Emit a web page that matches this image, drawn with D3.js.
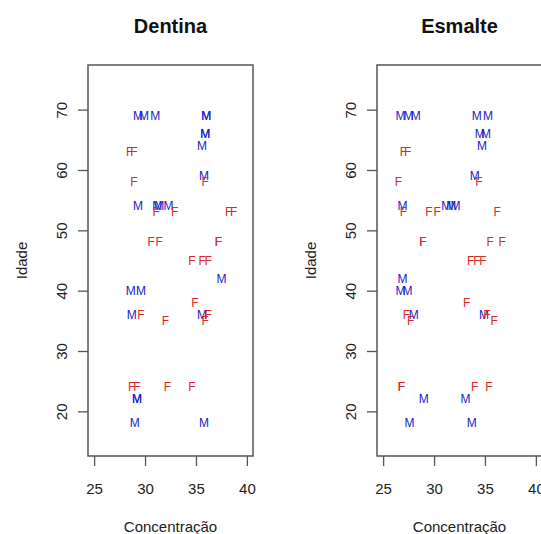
<!DOCTYPE html>
<html>
<head>
<meta charset="utf-8">
<script src="https://cdn.jsdelivr.net/npm/d3@7"></script>
<style>
    html, body { margin: 0; padding: 0; background: #fff; }
    svg { display: block; font-family: "Liberation Sans", Arial, sans-serif; }
</style>
</head>
<body>
<div id="chart"></div>
<script>
// Dentina: concentration, age and sex for every sample
const dentinaConc = [
    29.3, 29.9, 31.0, 36.0, 36.0, 35.9, 35.9, 35.6, 35.8, 29.3, 31.2, 31.4, 32.3,
    37.5, 28.6, 29.6, 28.7, 35.6, 29.2, 29.2, 29.0, 35.8,
    28.5, 28.9, 28.9, 35.9, 31.1, 32.9, 38.2, 38.7, 30.6, 31.4, 37.2, 37.2,
    34.6, 35.6, 36.2, 34.9, 29.6, 36.2, 32.0, 35.9, 28.7, 29.2, 32.2, 34.6
];
const dentinaIdade = [
    69, 69, 69, 69, 69, 66, 66, 64, 59, 54, 54, 54, 54,
    42, 40, 40, 36, 36, 22, 22, 18, 18,
    63, 63, 58, 58, 53, 53, 53, 53, 48, 48, 48, 48,
    45, 45, 45, 38, 36, 36, 35, 35, 24, 24, 24, 24
];
const dentinaSexo = [
    "M", "M", "M", "M", "M", "M", "M", "M", "M", "M", "M", "M", "M",
    "M", "M", "M", "M", "M", "M", "M", "M", "M",
    "F", "F", "F", "F", "F", "F", "F", "F", "F", "F", "F", "F",
    "F", "F", "F", "F", "F", "F", "F", "F", "F", "F", "F", "F"
];

// Esmalte
const esmalteConc = [
    26.7, 27.5, 28.2, 34.2, 35.3, 34.5, 35.1, 34.7, 34.0, 26.9, 31.2, 31.7, 32.1,
    26.9, 26.7, 27.4, 28.0, 34.9, 29.0, 33.1, 27.6, 33.7,
    27.0, 27.4, 26.5, 34.4, 27.0, 29.5, 30.3, 36.2, 28.9, 28.9, 35.5, 36.7,
    33.6, 34.2, 34.8, 33.2, 27.3, 35.2, 27.7, 35.9, 26.8, 26.8, 34.0, 35.4
];
const esmalteIdade = dentinaIdade;
const esmalteSexo = dentinaSexo;

const xTicks = [25, 30, 35, 40];
const yTicks = [20, 30, 40, 50, 60, 70];
const sexColor = { M: "#1c1cc8", F: "#d42c2c" };

const width = 541;
const height = 534;

const svg = d3.select("#chart").append("svg")
    .attr("width", width)
    .attr("height", height);

const panels = [
    { title: "Dentina", conc: dentinaConc, idade: dentinaIdade, sexo: dentinaSexo, left: 88 },
    { title: "Esmalte", conc: esmalteConc, idade: esmalteIdade, sexo: esmalteSexo, left: 377 }
];

const boxTop = 65;
const boxBottom = 456;
const boxWidth = 165;

/**
 * Draw one panel (box, axes, labels and the M/F text markers)
 */
function drawPanel(p) {
    const x = d3.scaleLinear()
        .domain([24.4, 40.6])
        .range([p.left, p.left + boxWidth]);

    const y = d3.scaleLinear()
        .domain([12.6, 77.4])
        .range([boxBottom, boxTop]);

    // Title
    svg.append("text")
        .attr("x", p.left + boxWidth / 2)
        .attr("y", 33)
        .attr("text-anchor", "middle")
        .attr("font-size", "20px")
        .attr("font-weight", "bold")
        .attr("fill", "#111")
        .text(p.title);

    // X axis
    const gx = svg.append("g")
        .attr("transform", `translate(0,${boxBottom})`)
        .call(d3.axisBottom(x).tickValues(xTicks).tickSize(10).tickSizeOuter(0));
    gx.select(".domain").remove();
    gx.selectAll("line").attr("stroke", "#555").attr("stroke-width", 1.3);
    gx.selectAll("text")
        .attr("y", 38)
        .attr("dy", null)
        .attr("font-size", "15px")
        .attr("font-family", "Liberation Sans, Arial, sans-serif")
        .attr("fill", "#222");

    // Y axis (labels rotated like R default)
    const gy = svg.append("g")
        .attr("transform", `translate(${p.left},0)`)
        .call(d3.axisLeft(y).tickValues(yTicks).tickSize(10).tickSizeOuter(0));
    gy.select(".domain").remove();
    gy.selectAll("line").attr("stroke", "#555").attr("stroke-width", 1.3);
    gy.selectAll("text")
        .attr("x", null)
        .attr("dy", null)
        .attr("text-anchor", "middle")
        .attr("transform", "translate(-21.5,0) rotate(-90)")
        .attr("font-size", "15px")
        .attr("font-family", "Liberation Sans, Arial, sans-serif")
        .attr("fill", "#222");

    // Axis titles
    svg.append("text")
        .attr("x", p.left + boxWidth / 2)
        .attr("y", 532)
        .attr("text-anchor", "middle")
        .attr("font-size", "15px")
        .attr("fill", "#222")
        .text("Concentração");

    svg.append("text")
        .attr("transform", `translate(${p.left - 61.5},${(boxTop + boxBottom) / 2}) rotate(-90)`)
        .attr("text-anchor", "middle")
        .attr("font-size", "15px")
        .attr("fill", "#222")
        .text("Idade");

    // Box around plot area
    svg.append("rect")
        .attr("x", p.left)
        .attr("y", boxTop)
        .attr("width", boxWidth)
        .attr("height", boxBottom - boxTop)
        .attr("fill", "none")
        .attr("stroke", "#555")
        .attr("stroke-width", 1.5);

    // Points drawn as the letters M / F
    const pts = p.conc.map((c, i) => ({ conc: c, idade: p.idade[i], sexo: p.sexo[i] }));
    svg.append("g")
        .selectAll("text")
        .data(pts)
        .enter()
        .append("text")
        .attr("x", d => x(d.conc))
        .attr("y", d => y(d.idade))
        .attr("text-anchor", "middle")
        .attr("dominant-baseline", "central")
        .attr("font-size", "12px")
        .attr("fill", d => sexColor[d.sexo])
        .text(d => d.sexo);
}

panels.forEach(drawPanel);
</script>
</body>
</html>
